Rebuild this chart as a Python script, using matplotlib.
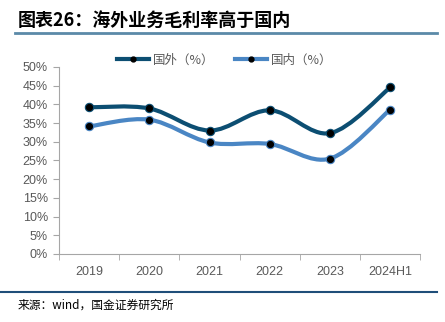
import numpy as np
import matplotlib
matplotlib.use('Agg')
import matplotlib.pyplot as plt
from matplotlib.path import Path
from matplotlib.patches import PathPatch
from matplotlib.lines import Line2D
from matplotlib.ticker import PercentFormatter, FixedLocator

plt.rcParams['font.family'] = ['Noto Sans CJK SC', 'DejaVu Sans']

years = ['2019', '2020', '2021', '2022', '2023', '2024H1']
overseas = [39.2, 38.9, 33.0, 38.4, 32.3, 44.5]
domestic = [34.1, 35.9, 29.8, 29.4, 25.5, 38.6]

C_OVER = '#0c4e72'
C_DOM = '#4a86c4'
GRAY = '#595959'
NUM_FONT = ['Liberation Sans', 'DejaVu Sans']


def smooth_path(xs, ys, t=0.5):
    # cardinal spline through the points, as cubic bezier segments
    xs = np.asarray(xs, float)
    ys = np.asarray(ys, float)
    n = len(xs)
    verts = [(xs[0], ys[0])]
    codes = [Path.MOVETO]
    for i in range(n - 1):
        p0 = np.array([xs[max(i - 1, 0)], ys[max(i - 1, 0)]])
        p1 = np.array([xs[i], ys[i]])
        p2 = np.array([xs[i + 1], ys[i + 1]])
        p3 = np.array([xs[min(i + 2, n - 1)], ys[min(i + 2, n - 1)]])
        c1 = p1 + (p2 - p0) * t / 3
        c2 = p2 - (p3 - p1) * t / 3
        verts += [tuple(c1), tuple(c2), tuple(p2)]
        codes += [Path.CURVE4] * 3
    return Path(verts, codes)


fig = plt.figure(figsize=(4.45, 3.22), dpi=100)
ax = fig.add_axes([0.1326, 0.2112, 0.812, 0.581])

x = np.arange(len(years))
for vals, col in [(overseas, C_OVER), (domestic, C_DOM)]:
    ax.add_patch(PathPatch(smooth_path(x, vals), facecolor='none',
                           edgecolor=col, lw=3, capstyle='round', zorder=2))
    ax.plot(x, vals, ls='none', marker='o', ms=6, mfc='black',
            mec=col, mew=0.8, zorder=3)

ax.set_xlim(-0.5, len(years) - 0.5)
ax.set_ylim(0, 50)
ax.set_yticks(np.arange(0, 51, 5))
ax.yaxis.set_major_formatter(PercentFormatter(decimals=0))
ax.set_xticks(x)
ax.set_xticklabels(years)
ax.xaxis.set_minor_locator(FixedLocator(np.arange(-0.5, len(years), 1.0)))
ax.tick_params(axis='x', which='major', length=0, pad=9, labelsize=9, labelcolor=GRAY)
ax.tick_params(axis='x', which='minor', length=4, color='#a6a6a6', direction='out')
ax.tick_params(axis='y', length=4, color='#a6a6a6', labelsize=9, labelcolor=GRAY, pad=4)
for lab in ax.get_xticklabels() + ax.get_yticklabels():
    lab.set_family(NUM_FONT)
for s in ['top', 'right']:
    ax.spines[s].set_visible(False)
for s in ['left', 'bottom']:
    ax.spines[s].set_color('#a6a6a6')
    ax.spines[s].set_linewidth(0.8)

handles = [
    Line2D([], [], color=C_OVER, lw=3, marker='o', ms=3.5, mfc='black', mec='black'),
    Line2D([], [], color=C_DOM, lw=3, marker='o', ms=3.5, mfc='black', mec='black'),
]
fig.legend(handles, ['国外（%）', '国内（%）'], loc='center', ncol=2,
           bbox_to_anchor=(0.505, 0.813), frameon=False, fontsize=9,
           labelcolor=GRAY, handlelength=2.6, columnspacing=1.6, handletextpad=0.3)

fig.text(0.04, 0.938, '图表26：海外业务毛利率高于国内', fontsize=13,
         fontweight='bold', color='black', va='center', fontstyle='italic')
fig.add_artist(Line2D([0.034, 0.982], [0.897, 0.897], color='#5b8aa8', lw=2))
fig.add_artist(Line2D([0.0, 0.982], [0.093, 0.093], color='#1f4e79', lw=1.5))
fig.text(0.04, 0.052, '来源：wind，国金证券研究所', fontsize=8.5,
         color='black', va='center')

fig.savefig('out.png', dpi=100)
